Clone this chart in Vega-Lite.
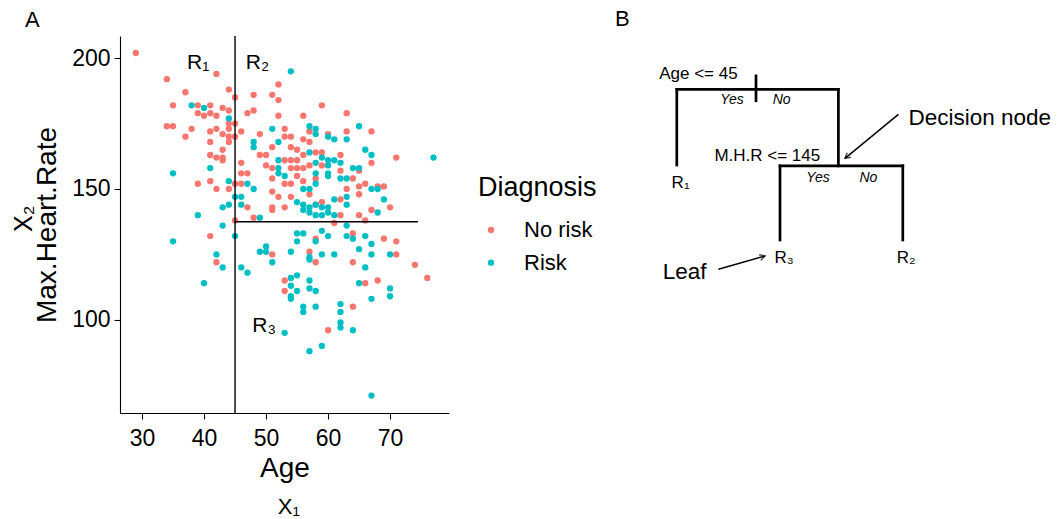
{
  "$schema": "https://vega.github.io/schema/vega-lite/v6.json",
  "width": 329,
  "height": 377,
  "autosize": {"type": "none"},
  "padding": {"left": 120, "top": 36, "right": 610, "bottom": 106},
  "background": "white",
  "config": {"view": {"stroke": null}, "font": "Liberation Sans"},
  "datasets": {
    "heart": [
      {"Age":29,"MaxHR":202,"D":"No risk"},{"Age":34,"MaxHR":192,"D":"No risk"},{"Age":42,"MaxHR":194,"D":"No risk"},{"Age":37,"MaxHR":187,"D":"No risk"},{"Age":44,"MaxHR":188,"D":"No risk"},{"Age":45,"MaxHR":185,"D":"No risk"},{"Age":35,"MaxHR":182,"D":"No risk"},{"Age":39,"MaxHR":182,"D":"No risk"},{"Age":39,"MaxHR":179,"D":"No risk"},{"Age":40,"MaxHR":178,"D":"No risk"},{"Age":41,"MaxHR":179,"D":"No risk"},{"Age":41,"MaxHR":182,"D":"No risk"},{"Age":42,"MaxHR":178,"D":"No risk"},{"Age":43,"MaxHR":181,"D":"No risk"},{"Age":44,"MaxHR":180,"D":"No risk"},{"Age":34,"MaxHR":174,"D":"No risk"},{"Age":35,"MaxHR":174,"D":"No risk"},{"Age":38,"MaxHR":173,"D":"No risk"},{"Age":41,"MaxHR":172,"D":"No risk"},{"Age":42,"MaxHR":173,"D":"No risk"},{"Age":44,"MaxHR":175,"D":"No risk"},{"Age":44,"MaxHR":173,"D":"No risk"},{"Age":45,"MaxHR":175,"D":"No risk"},{"Age":45,"MaxHR":170,"D":"No risk"},{"Age":44,"MaxHR":170,"D":"No risk"},{"Age":44,"MaxHR":168,"D":"No risk"},{"Age":43,"MaxHR":171,"D":"No risk"},{"Age":37,"MaxHR":170,"D":"No risk"},{"Age":41,"MaxHR":168,"D":"No risk"},{"Age":46,"MaxHR":172,"D":"No risk"},{"Age":47,"MaxHR":179,"D":"No risk"},{"Age":48,"MaxHR":180,"D":"No risk"},{"Age":48,"MaxHR":186,"D":"No risk"},{"Age":51,"MaxHR":186,"D":"No risk"},{"Age":52,"MaxHR":190,"D":"No risk"},{"Age":52,"MaxHR":184,"D":"No risk"},{"Age":52,"MaxHR":178,"D":"No risk"},{"Age":49,"MaxHR":171,"D":"No risk"},{"Age":53,"MaxHR":173,"D":"No risk"},{"Age":53,"MaxHR":170,"D":"No risk"},
      {"Age":59,"MaxHR":182,"D":"No risk"},{"Age":63,"MaxHR":179,"D":"No risk"},{"Age":56,"MaxHR":178,"D":"No risk"},{"Age":57,"MaxHR":172,"D":"No risk"},{"Age":60,"MaxHR":171,"D":"No risk"},{"Age":63,"MaxHR":172,"D":"No risk"},{"Age":67,"MaxHR":172,"D":"No risk"},{"Age":54,"MaxHR":170,"D":"No risk"},{"Age":56,"MaxHR":169,"D":"No risk"},{"Age":57,"MaxHR":168,"D":"No risk"},{"Age":54,"MaxHR":166,"D":"No risk"},{"Age":55,"MaxHR":165,"D":"No risk"},
      {"Age":43,"MaxHR":165,"D":"No risk"},{"Age":41,"MaxHR":163,"D":"No risk"},{"Age":42,"MaxHR":162,"D":"No risk"},{"Age":43,"MaxHR":162,"D":"No risk"},{"Age":43,"MaxHR":161,"D":"No risk"},{"Age":41,"MaxHR":153,"D":"No risk"},{"Age":39,"MaxHR":152,"D":"No risk"},{"Age":42,"MaxHR":150,"D":"No risk"},{"Age":44,"MaxHR":150,"D":"No risk"},{"Age":45,"MaxHR":152,"D":"No risk"},{"Age":45,"MaxHR":138,"D":"No risk"},{"Age":41,"MaxHR":132,"D":"No risk"},{"Age":46,"MaxHR":160,"D":"No risk"},{"Age":49,"MaxHR":163,"D":"No risk"},{"Age":50,"MaxHR":163,"D":"No risk"},{"Age":50,"MaxHR":159,"D":"No risk"},{"Age":51,"MaxHR":166,"D":"No risk"},{"Age":51,"MaxHR":158,"D":"No risk"},{"Age":46,"MaxHR":156,"D":"No risk"},{"Age":47,"MaxHR":156,"D":"No risk"},{"Age":46,"MaxHR":152,"D":"No risk"},{"Age":51,"MaxHR":154,"D":"No risk"},{"Age":51,"MaxHR":149,"D":"No risk"},{"Age":52,"MaxHR":147,"D":"No risk"},{"Age":47,"MaxHR":143,"D":"No risk"},{"Age":51,"MaxHR":143,"D":"No risk"},{"Age":51,"MaxHR":142,"D":"No risk"},{"Age":53,"MaxHR":143,"D":"No risk"},{"Age":48,"MaxHR":139,"D":"No risk"},{"Age":53,"MaxHR":152,"D":"No risk"},
      {"Age":58,"MaxHR":164,"D":"No risk"},{"Age":59,"MaxHR":164,"D":"No risk"},{"Age":62,"MaxHR":163,"D":"No risk"},{"Age":53,"MaxHR":161,"D":"No risk"},{"Age":54,"MaxHR":161,"D":"No risk"},{"Age":55,"MaxHR":161,"D":"No risk"},{"Age":56,"MaxHR":163,"D":"No risk"},{"Age":57,"MaxHR":159,"D":"No risk"},{"Age":59,"MaxHR":159,"D":"No risk"},{"Age":54,"MaxHR":158,"D":"No risk"},{"Age":55,"MaxHR":158,"D":"No risk"},{"Age":56,"MaxHR":158,"D":"No risk"},{"Age":62,"MaxHR":157,"D":"No risk"},{"Age":65,"MaxHR":157,"D":"No risk"},{"Age":55,"MaxHR":155,"D":"No risk"},{"Age":58,"MaxHR":154,"D":"No risk"},{"Age":64,"MaxHR":154,"D":"No risk"},{"Age":56,"MaxHR":153,"D":"No risk"},{"Age":54,"MaxHR":152,"D":"No risk"},{"Age":63,"MaxHR":150,"D":"No risk"},{"Age":65,"MaxHR":151,"D":"No risk"},{"Age":66,"MaxHR":152,"D":"No risk"},{"Age":68,"MaxHR":151,"D":"No risk"},{"Age":69,"MaxHR":151,"D":"No risk"},{"Age":57,"MaxHR":148,"D":"No risk"},{"Age":65,"MaxHR":148,"D":"No risk"},{"Age":54,"MaxHR":147,"D":"No risk"},{"Age":58,"MaxHR":144,"D":"No risk"},{"Age":59,"MaxHR":145,"D":"No risk"},{"Age":62,"MaxHR":146,"D":"No risk"},{"Age":70,"MaxHR":143,"D":"No risk"},{"Age":62,"MaxHR":140,"D":"No risk"},{"Age":65,"MaxHR":140,"D":"No risk"},{"Age":67,"MaxHR":142,"D":"No risk"},{"Age":66,"MaxHR":138,"D":"No risk"},{"Age":61,"MaxHR":137,"D":"No risk"},{"Age":58,"MaxHR":131,"D":"No risk"},{"Age":64,"MaxHR":133,"D":"No risk"},{"Age":69,"MaxHR":131,"D":"No risk"},{"Age":71,"MaxHR":130,"D":"No risk"},{"Age":67,"MaxHR":160,"D":"No risk"},{"Age":71,"MaxHR":162,"D":"No risk"},
      {"Age":42,"MaxHR":122,"D":"No risk"},{"Age":51,"MaxHR":125,"D":"No risk"},{"Age":57,"MaxHR":126,"D":"No risk"},{"Age":58,"MaxHR":122,"D":"No risk"},{"Age":64,"MaxHR":122,"D":"No risk"},{"Age":71,"MaxHR":125,"D":"No risk"},{"Age":74,"MaxHR":121,"D":"No risk"},{"Age":76,"MaxHR":116,"D":"No risk"},{"Age":53,"MaxHR":115,"D":"No risk"},{"Age":53,"MaxHR":111,"D":"No risk"},{"Age":64,"MaxHR":105,"D":"No risk"},{"Age":60,"MaxHR":96,"D":"No risk"},{"Age":66,"MaxHR":114,"D":"No risk"},{"Age":68,"MaxHR":115,"D":"No risk"},
      {"Age":38,"MaxHR":182,"D":"Risk"},{"Age":40,"MaxHR":181,"D":"Risk"},{"Age":44,"MaxHR":177,"D":"Risk"},{"Age":51,"MaxHR":173,"D":"Risk"},{"Age":48,"MaxHR":168,"D":"Risk"},{"Age":52,"MaxHR":168,"D":"Risk"},{"Age":54,"MaxHR":195,"D":"Risk"},{"Age":48,"MaxHR":166,"D":"Risk"},
      {"Age":57,"MaxHR":174,"D":"Risk"},{"Age":58,"MaxHR":173,"D":"Risk"},{"Age":58,"MaxHR":171,"D":"Risk"},{"Age":60,"MaxHR":170,"D":"Risk"},{"Age":61,"MaxHR":169,"D":"Risk"},{"Age":65,"MaxHR":174,"D":"Risk"},{"Age":63,"MaxHR":169,"D":"Risk"},{"Age":66,"MaxHR":165,"D":"Risk"},
      {"Age":35,"MaxHR":156,"D":"Risk"},{"Age":41,"MaxHR":158,"D":"Risk"},{"Age":44,"MaxHR":153,"D":"Risk"},{"Age":45,"MaxHR":147,"D":"Risk"},{"Age":44,"MaxHR":144,"D":"Risk"},{"Age":43,"MaxHR":143,"D":"Risk"},{"Age":39,"MaxHR":140,"D":"Risk"},{"Age":43,"MaxHR":136,"D":"Risk"},{"Age":45,"MaxHR":132,"D":"Risk"},{"Age":35,"MaxHR":130,"D":"Risk"},{"Age":52,"MaxHR":161,"D":"Risk"},{"Age":52,"MaxHR":158,"D":"Risk"},{"Age":52,"MaxHR":156,"D":"Risk"},{"Age":47,"MaxHR":152,"D":"Risk"},{"Age":48,"MaxHR":150,"D":"Risk"},{"Age":46,"MaxHR":147,"D":"Risk"},{"Age":46,"MaxHR":144,"D":"Risk"},{"Age":49,"MaxHR":139,"D":"Risk"},
      {"Age":57,"MaxHR":164,"D":"Risk"},{"Age":59,"MaxHR":162,"D":"Risk"},{"Age":60,"MaxHR":161,"D":"Risk"},{"Age":61,"MaxHR":161,"D":"Risk"},{"Age":62,"MaxHR":160,"D":"Risk"},{"Age":58,"MaxHR":160,"D":"Risk"},{"Age":60,"MaxHR":159,"D":"Risk"},{"Age":64,"MaxHR":158,"D":"Risk"},{"Age":65,"MaxHR":158,"D":"Risk"},{"Age":53,"MaxHR":155,"D":"Risk"},{"Age":58,"MaxHR":156,"D":"Risk"},{"Age":60,"MaxHR":156,"D":"Risk"},{"Age":60,"MaxHR":155,"D":"Risk"},{"Age":62,"MaxHR":154,"D":"Risk"},{"Age":63,"MaxHR":154,"D":"Risk"},{"Age":58,"MaxHR":152,"D":"Risk"},{"Age":56,"MaxHR":150,"D":"Risk"},{"Age":57,"MaxHR":150,"D":"Risk"},{"Age":67,"MaxHR":150,"D":"Risk"},{"Age":68,"MaxHR":150,"D":"Risk"},{"Age":63,"MaxHR":147,"D":"Risk"},{"Age":55,"MaxHR":145,"D":"Risk"},{"Age":56,"MaxHR":144,"D":"Risk"},{"Age":56,"MaxHR":142,"D":"Risk"},{"Age":57,"MaxHR":143,"D":"Risk"},{"Age":58,"MaxHR":144,"D":"Risk"},{"Age":59,"MaxHR":143,"D":"Risk"},{"Age":60,"MaxHR":143,"D":"Risk"},{"Age":61,"MaxHR":146,"D":"Risk"},{"Age":63,"MaxHR":144,"D":"Risk"},{"Age":69,"MaxHR":146,"D":"Risk"},{"Age":57,"MaxHR":141,"D":"Risk"},{"Age":58,"MaxHR":140,"D":"Risk"},{"Age":59,"MaxHR":140,"D":"Risk"},{"Age":60,"MaxHR":141,"D":"Risk"},{"Age":61,"MaxHR":140,"D":"Risk"},{"Age":68,"MaxHR":141,"D":"Risk"},{"Age":63,"MaxHR":136,"D":"Risk"},{"Age":55,"MaxHR":133,"D":"Risk"},{"Age":56,"MaxHR":133,"D":"Risk"},{"Age":59,"MaxHR":134,"D":"Risk"},{"Age":60,"MaxHR":132,"D":"Risk"},{"Age":63,"MaxHR":132,"D":"Risk"},{"Age":64,"MaxHR":131,"D":"Risk"},{"Age":66,"MaxHR":132,"D":"Risk"},{"Age":67,"MaxHR":163,"D":"Risk"},{"Age":77,"MaxHR":162,"D":"Risk"},
      {"Age":42,"MaxHR":125,"D":"Risk"},{"Age":43,"MaxHR":120,"D":"Risk"},{"Age":40,"MaxHR":114,"D":"Risk"},{"Age":46,"MaxHR":120,"D":"Risk"},{"Age":47,"MaxHR":118,"D":"Risk"},{"Age":49,"MaxHR":126,"D":"Risk"},{"Age":50,"MaxHR":128,"D":"Risk"},{"Age":50,"MaxHR":126,"D":"Risk"},{"Age":51,"MaxHR":122,"D":"Risk"},{"Age":54,"MaxHR":126,"D":"Risk"},{"Age":55,"MaxHR":130,"D":"Risk"},{"Age":57,"MaxHR":124,"D":"Risk"},{"Age":57,"MaxHR":123,"D":"Risk"},{"Age":58,"MaxHR":130,"D":"Risk"},{"Age":59,"MaxHR":125,"D":"Risk"},{"Age":61,"MaxHR":125,"D":"Risk"},{"Age":65,"MaxHR":127,"D":"Risk"},{"Age":66,"MaxHR":120,"D":"Risk"},{"Age":67,"MaxHR":129,"D":"Risk"},{"Age":67,"MaxHR":125,"D":"Risk"},{"Age":70,"MaxHR":125,"D":"Risk"},{"Age":54,"MaxHR":116,"D":"Risk"},{"Age":55,"MaxHR":117,"D":"Risk"},{"Age":54,"MaxHR":113,"D":"Risk"},{"Age":55,"MaxHR":111,"D":"Risk"},{"Age":54,"MaxHR":109,"D":"Risk"},{"Age":54,"MaxHR":108,"D":"Risk"},{"Age":57,"MaxHR":115,"D":"Risk"},{"Age":57,"MaxHR":112,"D":"Risk"},{"Age":58,"MaxHR":111,"D":"Risk"},{"Age":56,"MaxHR":105,"D":"Risk"},{"Age":56,"MaxHR":103,"D":"Risk"},{"Age":58,"MaxHR":105,"D":"Risk"},{"Age":62,"MaxHR":106,"D":"Risk"},{"Age":62,"MaxHR":103,"D":"Risk"},{"Age":62,"MaxHR":99,"D":"Risk"},{"Age":62,"MaxHR":97,"D":"Risk"},{"Age":64,"MaxHR":96,"D":"Risk"},{"Age":53,"MaxHR":95,"D":"Risk"},{"Age":59,"MaxHR":90,"D":"Risk"},{"Age":57,"MaxHR":88,"D":"Risk"},{"Age":67,"MaxHR":71,"D":"Risk"},{"Age":65,"MaxHR":114,"D":"Risk"},{"Age":67,"MaxHR":108,"D":"Risk"},{"Age":70,"MaxHR":112,"D":"Risk"},{"Age":70,"MaxHR":109,"D":"Risk"}
    ],
    "treeLines": [
      {"x":19.2,"y":29.8,"x2":59.6,"y2":29.8},
      {"x":39,"y":25.3,"x2":39,"y2":33.6},
      {"x":19.2,"y":29.8,"x2":19.2,"y2":55},
      {"x":59.6,"y":29.8,"x2":59.6,"y2":55.3},
      {"x":45,"y":55.3,"x2":75.7,"y2":55.3},
      {"x":45,"y":55.3,"x2":45,"y2":80},
      {"x":75.7,"y":55.3,"x2":75.7,"y2":80}
    ],
    "arrows": [
      {"name":"leaf","x":29.6,"y":89.77,"x2":41.25,"y2":85.33},
      {"name":"node","x":74.6,"y":38.1,"x2":61.25,"y2":52.77}
    ]
  },
  "layer": [
    {
      "layer": [
        {
          "data": {"name": "heart"},
          "mark": {"type": "circle", "size": 40, "opacity": 1},
          "encoding": {
            "x": {"field": "Age", "type": "quantitative",
              "scale": {"domain": [26.45, 79.5], "nice": false, "zero": false},
              "axis": {"title": "Age", "values": [30, 40, 50, 60, 70], "grid": false,
                "domainColor": "black", "domainWidth": 1.1, "tickColor": "black", "tickWidth": 1.1, "tickSize": 6,
                "labelFontSize": 23, "labelColor": "black", "labelPadding": 8, "labelFont": "Liberation Sans",
                "titleFontSize": 28, "titleFontWeight": "normal", "titleColor": "black", "titlePadding": 4, "titleFont": "Liberation Sans"}},
            "y": {"field": "MaxHR", "type": "quantitative",
              "scale": {"domain": [64.35, 208.5], "nice": false, "zero": false},
              "axis": {"title": "Max.Heart.Rate", "values": [100, 150, 200], "grid": false,
                "domainColor": "black", "domainWidth": 1.1, "tickColor": "black", "tickWidth": 1.1, "tickSize": 6,
                "labelFontSize": 23, "labelColor": "black", "labelPadding": 4, "labelFont": "Liberation Sans",
                "titleFontSize": 28, "titleFontWeight": "normal", "titleColor": "black", "titlePadding": 10, "titleFont": "Liberation Sans"}},
            "color": {"field": "D", "type": "nominal",
              "scale": {"domain": ["No risk", "Risk"], "range": ["#F8766D", "#00BFC4"]},
              "legend": {"title": "Diagnosis", "orient": "none", "legendX": 358, "legendY": 139,
                "titleFontSize": 27, "titleFontWeight": "normal", "titleColor": "black", "titleFont": "Liberation Sans",
                "labelFontSize": 22, "labelColor": "black", "labelFont": "Liberation Sans",
                "titlePadding": 17, "rowPadding": 10.7, "symbolOffset": 2, "labelOffset": 22,
                "symbolSize": 40, "symbolType": "circle", "symbolStrokeWidth": 0}}
          }
        },
        {
          "data": {"values": [{"Age": 45}]},
          "mark": {"type": "rule", "color": "black", "strokeWidth": 1.4},
          "encoding": {"x": {"field": "Age", "type": "quantitative"}}
        },
        {
          "data": {"values": [{"Age": 45, "Age2": 74.5, "MaxHR": 137.5}]},
          "mark": {"type": "rule", "color": "black", "strokeWidth": 1.4},
          "encoding": {
            "x": {"field": "Age", "type": "quantitative"},
            "x2": {"field": "Age2"},
            "y": {"field": "MaxHR", "type": "quantitative"}
          }
        },
        {
          "data": {"values": [
            {"Age": 37.26, "MaxHR": 195.9, "lab": "R₁"},
            {"Age": 46.73, "MaxHR": 195.9, "lab": "R₂"},
            {"Age": 47.79, "MaxHR": 95.5, "lab": "R₃"}
          ]},
          "mark": {"type": "text", "fontSize": 21, "align": "left", "baseline": "alphabetic", "color": "black", "font": "Liberation Sans"},
          "encoding": {
            "x": {"field": "Age", "type": "quantitative"},
            "y": {"field": "MaxHR", "type": "quantitative"},
            "text": {"field": "lab"}
          }
        },
        {
          "data": {"values": [{"Age": 11.13, "MaxHR": 212.07, "lab": "A"}]},
          "mark": {"type": "text", "fontSize": 22, "align": "left", "baseline": "alphabetic", "color": "black", "clip": false, "font": "Liberation Sans"},
          "encoding": {
            "x": {"field": "Age", "type": "quantitative"},
            "y": {"field": "MaxHR", "type": "quantitative"},
            "text": {"field": "lab"}
          }
        },
        {
          "data": {"values": [{"Age": 51.89, "MaxHR": 25.87, "lab": "X₁"}]},
          "mark": {"type": "text", "fontSize": 22, "align": "left", "baseline": "alphabetic", "color": "black", "font": "Liberation Sans"},
          "encoding": {
            "x": {"field": "Age", "type": "quantitative"},
            "y": {"field": "MaxHR", "type": "quantitative"},
            "text": {"field": "lab"}
          }
        },
        {
          "data": {"values": [{"Age": 12.26, "MaxHR": 138.6, "lab": "X₂"}]},
          "mark": {"type": "text", "fontSize": 25, "angle": 270, "align": "center", "baseline": "alphabetic", "color": "black", "font": "Liberation Sans"},
          "encoding": {
            "x": {"field": "Age", "type": "quantitative"},
            "y": {"field": "MaxHR", "type": "quantitative"},
            "text": {"field": "lab"}
          }
        }
      ]
    },
    {
      "encoding": {
        "x": {"type": "quantitative", "scale": {"domain": [0, 100], "range": [480, 880]}, "axis": null},
        "y": {"type": "quantitative", "scale": {"domain": [0, 100], "range": [-36, 264]}, "axis": null}
      },
      "layer": [
        {
          "data": {"name": "treeLines"},
          "mark": {"type": "rule", "color": "black", "strokeWidth": 2.7, "strokeCap": "square"},
          "encoding": {
            "x": {"field": "x", "type": "quantitative"},
            "y": {"field": "y", "type": "quantitative"},
            "x2": {"field": "x2"},
            "y2": {"field": "y2"}
          }
        },
        {
          "data": {"name": "arrows"},
          "mark": {"type": "rule", "color": "black", "strokeWidth": 1.5},
          "encoding": {
            "x": {"field": "x", "type": "quantitative"},
            "y": {"field": "y", "type": "quantitative"},
            "x2": {"field": "x2"},
            "y2": {"field": "y2"}
          }
        },
        {
          "data": {"name": "arrows"},
          "transform": [{"filter": "datum.name === 'leaf'"}],
          "mark": {"type": "point", "shape": "M -1 -0.55 L 0 0 L -1 0.55", "filled": false, "stroke": "black", "strokeWidth": 1.5, "size": 110, "angle": 344},
          "encoding": {
            "x": {"field": "x2", "type": "quantitative"},
            "y": {"field": "y2", "type": "quantitative"}
          }
        },
        {
          "data": {"name": "arrows"},
          "transform": [{"filter": "datum.name === 'node'"}],
          "mark": {"type": "point", "shape": "M -1 -0.55 L 0 0 L -1 0.55", "filled": false, "stroke": "black", "strokeWidth": 1.5, "size": 110, "angle": 140.5},
          "encoding": {
            "x": {"field": "x2", "type": "quantitative"},
            "y": {"field": "y2", "type": "quantitative"}
          }
        },
        {
          "data": {"values": [
            {"x": 14.8, "y": 26.33, "lab": "Age <= 45"},
            {"x": 28.6, "y": 53.57, "lab": "M.H.R <= 145"},
            {"x": 17.9, "y": 62.77, "lab": "R₁"},
            {"x": 43.6, "y": 87.77, "lab": "R₃"},
            {"x": 74.2, "y": 87.77, "lab": "R₂"}
          ]},
          "mark": {"type": "text", "fontSize": 17, "align": "left", "baseline": "alphabetic", "color": "black", "font": "Liberation Sans"},
          "encoding": {
            "x": {"field": "x", "type": "quantitative"},
            "y": {"field": "y", "type": "quantitative"},
            "text": {"field": "lab"}
          }
        },
        {
          "data": {"values": [
            {"x": 33, "y": 34.67, "lab": "Yes"},
            {"x": 45.4, "y": 34.67, "lab": "No"},
            {"x": 54.5, "y": 60.57, "lab": "Yes"},
            {"x": 67.1, "y": 60.57, "lab": "No"}
          ]},
          "mark": {"type": "text", "fontSize": 14, "fontStyle": "italic", "align": "center", "baseline": "alphabetic", "color": "black", "font": "Liberation Sans"},
          "encoding": {
            "x": {"field": "x", "type": "quantitative"},
            "y": {"field": "y", "type": "quantitative"},
            "text": {"field": "lab"}
          }
        },
        {
          "data": {"values": [
            {"x": 15.7, "y": 93.1, "lab": "Leaf"},
            {"x": 77.1, "y": 41.67, "lab": "Decision node"}
          ]},
          "mark": {"type": "text", "fontSize": 22.5, "align": "left", "baseline": "alphabetic", "color": "black", "font": "Liberation Sans"},
          "encoding": {
            "x": {"field": "x", "type": "quantitative"},
            "y": {"field": "y", "type": "quantitative"},
            "text": {"field": "lab"}
          }
        },
        {
          "data": {"values": [{"x": 3.75, "y": 8.67, "lab": "B"}]},
          "mark": {"type": "text", "fontSize": 22, "align": "left", "baseline": "alphabetic", "color": "black", "font": "Liberation Sans"},
          "encoding": {
            "x": {"field": "x", "type": "quantitative"},
            "y": {"field": "y", "type": "quantitative"},
            "text": {"field": "lab"}
          }
        }
      ]
    }
  ],
  "resolve": {"scale": {"x": "independent", "y": "independent"}}
}
